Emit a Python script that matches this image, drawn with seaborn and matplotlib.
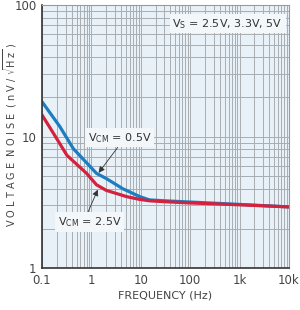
import numpy as np
import pandas as pd
import matplotlib
matplotlib.use("Agg")
import matplotlib.pyplot as plt
import seaborn as sns
from matplotlib.ticker import LogLocator, FixedLocator, FixedFormatter, NullFormatter

# Data
freq_05 = [0.1, 0.23, 0.43, 1.27, 2.0, 4.4, 9.5, 15, 30, 100, 1000, 10000]
noise_05 = [18.4, 11.9, 8.1, 5.25, 4.8, 4.0, 3.5, 3.3, 3.25, 3.18, 3.05, 2.92]
freq_25 = [0.1, 0.17, 0.32, 0.8, 1.27, 2.0, 5.1, 9.5, 15, 30, 100, 1000, 10000]
noise_25 = [14.6, 10.6, 7.2, 5.25, 4.3, 3.9, 3.5, 3.33, 3.25, 3.2, 3.13, 3.03, 2.92]
series_names = ["VCM = 0.5V", "VCM = 2.5V"]
series_colors = ["#1b7dc2", "#d4213d"]
xtick_vals = [0.1, 1, 10, 100, 1000, 10000]
xtick_labels = ["0.1", "1", "10", "100", "1k", "10k"]
ytick_vals = [1, 10, 100]
ytick_labels = ["1", "10", "100"]

df = pd.concat([
    pd.DataFrame({"freq": freq_05, "noise": noise_05, "series": series_names[0]}),
    pd.DataFrame({"freq": freq_25, "noise": noise_25, "series": series_names[1]}),
])

sns.set_style("white")
plt.rcParams["font.family"] = ["DejaVu Sans"]

fig = plt.figure(figsize=(3.0, 3.1), dpi=100)
ax = fig.add_axes([0.14, 0.135, 0.823, 0.849])
ax.set_facecolor("#e8f1f8")

sns.lineplot(data=df, x="freq", y="noise", hue="series",
             palette=dict(zip(series_names, series_colors)),
             linewidth=2.3, ax=ax, legend=False, estimator=None, sort=False)

ax.set_xscale("log")
ax.set_yscale("log")
ax.set_xlim(0.1, 10000)
ax.set_ylim(1, 100)

ax.xaxis.set_major_locator(FixedLocator(xtick_vals))
ax.xaxis.set_major_formatter(FixedFormatter(xtick_labels))
ax.yaxis.set_major_locator(FixedLocator(ytick_vals))
ax.yaxis.set_major_formatter(FixedFormatter(ytick_labels))
ax.xaxis.set_minor_locator(LogLocator(base=10, subs=np.arange(2, 10)))
ax.yaxis.set_minor_locator(LogLocator(base=10, subs=np.arange(2, 10)))
ax.xaxis.set_minor_formatter(NullFormatter())
ax.yaxis.set_minor_formatter(NullFormatter())

ax.grid(True, which="both", color="#a8adb1", linewidth=0.7)
ax.set_axisbelow(True)
ax.tick_params(axis="both", which="both", length=0, labelsize=8.5, labelcolor="#444444", pad=4)

for s in ["top", "right"]:
    ax.spines[s].set_color("#9a9a9a")
    ax.spines[s].set_linewidth(0.8)
for s in ["left", "bottom"]:
    ax.spines[s].set_color("#333333")
    ax.spines[s].set_linewidth(1.2)

ax.set_xlabel("FREQUENCY (Hz)", fontsize=8, color="#444444", labelpad=3)
ax.set_ylabel("")
fig.text(0.035, 0.565,
         "V O L T A G E  N O I S E  ( n V / $\\sqrt{\\mathrm{H\\ z}}$ )",
         rotation=90, ha="center", va="center", fontsize=7, color="#444444")

box = dict(boxstyle="square,pad=0.25", fc="#f3f7fa", ec="none")
ax.text(0.975, 0.955, "V$_\\mathrm{S}$ = 2.5V, 3.3V, 5V", transform=ax.transAxes,
        ha="right", va="top", fontsize=8, color="#333333", bbox=box)

ax.annotate("V$_\\mathrm{CM}$ = 0.5V", xy=(1.4, 5.3), xytext=(0.85, 9.8),
            fontsize=8, color="#333333", ha="left", va="center", bbox=box,
            arrowprops=dict(arrowstyle="-|>", color="#333333", lw=0.6,
                            shrinkA=0, shrinkB=0, mutation_scale=9,
                            relpos=(0.5, 0.0)))
ax.annotate("V$_\\mathrm{CM}$ = 2.5V", xy=(1.35, 3.95), xytext=(0.93, 2.24),
            fontsize=8, color="#333333", ha="center", va="center", bbox=box,
            arrowprops=dict(arrowstyle="-|>", color="#333333", lw=0.6,
                            shrinkA=0, shrinkB=0, mutation_scale=9,
                            relpos=(0.45, 1.0)))

fig.savefig("out.png", dpi=100)
